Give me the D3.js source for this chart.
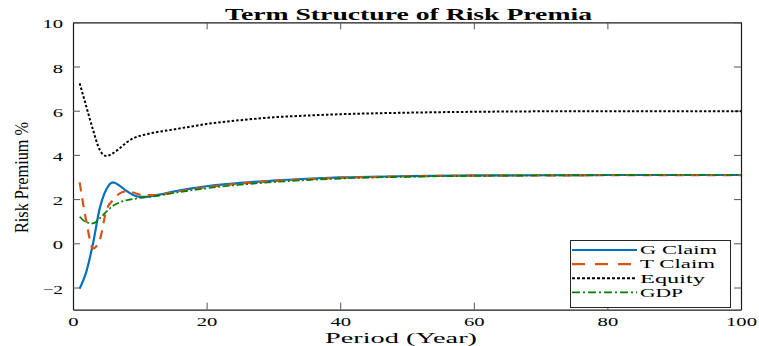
<!DOCTYPE html>
<html>
    <head>
        <meta charset="utf-8">
        <script src="https://cdn.jsdelivr.net/npm/d3@7"></script>
        <title>Term Structure of Risk Premia</title>
    </head>
    <style>
        body { margin: 0; background: white; }
        svg text { font-family: "Liberation Serif", "Times New Roman", serif; fill: #000; }
        .axis .domain { stroke: #1a1a1a; stroke-width: 1.2; }
        .axis .tick line { stroke: #555; }
    </style>
    <body></body>

    <script>

        //Data
        var periods = [1, 2, 3, 4, 5, 6, 7, 8, 9, 10, 11, 12, 14, 16, 18, 20, 25, 30, 35, 40, 50, 60, 70, 80, 90, 100];
        var gClaim  = [-2.05, -1.28, 0.0, 1.58, 2.45, 2.76, 2.6, 2.37, 2.19, 2.1, 2.1, 2.15, 2.27, 2.4, 2.5, 2.58, 2.73, 2.84, 2.92, 2.98, 3.04, 3.07, 3.08, 3.09, 3.09, 3.09];
        var tClaim  = [2.76, 0.98, -0.23, 0.15, 1.5, 1.96, 2.26, 2.35, 2.3, 2.2, 2.18, 2.18, 2.25, 2.36, 2.46, 2.54, 2.7, 2.82, 2.9, 2.96, 3.03, 3.06, 3.07, 3.08, 3.08, 3.08];
        var equity  = [7.24, 6.18, 5.13, 4.23, 3.95, 4.08, 4.3, 4.56, 4.75, 4.86, 4.93, 5.0, 5.1, 5.2, 5.3, 5.4, 5.57, 5.7, 5.78, 5.84, 5.91, 5.95, 5.97, 5.97, 5.97, 5.97];
        var gdp     = [1.2, 0.95, 0.9, 1.13, 1.43, 1.7, 1.85, 1.95, 2.0, 2.05, 2.09, 2.12, 2.22, 2.32, 2.41, 2.49, 2.65, 2.77, 2.86, 2.93, 3.01, 3.05, 3.07, 3.08, 3.09, 3.09];

        var seriesNames = ["G Claim", "T Claim", "Equity", "GDP"];
        var legendWidths = [77, 75, 65, 43];
        var xTicks = [0, 20, 40, 60, 80, 100];
        var yTicks = [-2, 0, 2, 4, 6, 8, 10];

        var series = [
            {name: seriesNames[0], values: gClaim, color: "#0072BD", dash: null, width: 2.2},
            {name: seriesNames[1], values: tClaim, color: "#D95319", dash: "9,7", width: 2.2},
            {name: seriesNames[2], values: equity, color: "#000000", dash: "2.5,2", width: 2},
            {name: seriesNames[3], values: gdp, color: "#008000", dash: "7,2.5,2,2.5", width: 1.7}
        ];

        var width = 759;
        var height = 346;
        var mLeft = 73, mRight = 741, mTop = 22.3, mBottom = 309.6;
        var serif = "'Liberation Serif', 'Times New Roman', serif";

        //Scales
        var xScale = d3.scaleLinear()
                        .domain([0, 100])
                        .range([mLeft, mRight]);

        var yScale = d3.scaleLinear()
                        .domain([-3, 10])
                        .range([mBottom, mTop]);

        var svg = d3.select("body")
                    .append("svg")
                    .attr("width", width)
                    .attr("height", height);

        //Axes (ticks inward, mirrored on top and right)
        var xAxisG = svg.append("g")
            .attr("class", "axis")
            .attr("transform", "translate(0," + mBottom + ")")
            .call(d3.axisBottom(xScale).tickValues(xTicks).tickSizeInner(-7).tickSizeOuter(0).tickPadding(8));

        svg.append("g")
            .attr("class", "axis")
            .attr("transform", "translate(0," + mTop + ")")
            .call(d3.axisTop(xScale).tickValues(xTicks).tickSizeInner(-7).tickSizeOuter(0).tickFormat(""));

        var yAxisG = svg.append("g")
            .attr("class", "axis")
            .attr("transform", "translate(" + mLeft + ",0)")
            .call(d3.axisLeft(yScale).tickValues(yTicks).tickSizeInner(-7).tickSizeOuter(0).tickPadding(10));

        svg.append("g")
            .attr("class", "axis")
            .attr("transform", "translate(" + mRight + ",0)")
            .call(d3.axisRight(yScale).tickValues(yTicks).tickSizeInner(-7).tickSizeOuter(0).tickFormat(""));

        // the reference is stretched sideways, so widen the tick labels
        svg.selectAll(".axis text")
            .style("font-family", serif)
            .attr("font-size", 12.5)
            .attr("fill", "#000")
            .attr("lengthAdjust", "spacingAndGlyphs")
            .attr("textLength", function(){
                return this.textContent.length * 10.3;
            });

        yAxisG.selectAll("text").attr("dy", "0.45em");
        xAxisG.selectAll("text").attr("dy", "0.7em");

        //Lines
        var line = d3.line()
                    .x(function(d, i){ return xScale(periods[i]); })
                    .y(function(d){ return yScale(d); })
                    .curve(d3.curveMonotoneX);

        svg.selectAll(".series")
            .data(series)
            .enter()
            .append("path")
            .attr("class", "series")
            .attr("d", function(d){ return line(d.values); })
            .attr("fill", "none")
            .attr("stroke", function(d){ return d.color; })
            .attr("stroke-width", function(d){ return d.width; })
            .attr("stroke-dasharray", function(d){ return d.dash; });

        //Title and labels
        svg.append("text")
            .attr("x", 225)
            .attr("y", 20)
            .style("font-family", serif)
            .attr("font-size", 17)
            .attr("font-weight", "bold")
            .attr("textLength", 367)
            .attr("lengthAdjust", "spacingAndGlyphs")
            .text("Term Structure of Risk Premia");

        svg.append("text")
            .attr("x", 325)
            .attr("y", 343)
            .style("font-family", serif)
            .attr("font-size", 15.5)
            .attr("font-weight", "normal")
            .attr("textLength", 152)
            .attr("lengthAdjust", "spacingAndGlyphs")
            .text("Period (Year)");

        svg.append("text")
            .attr("transform", "translate(28,233) rotate(-90)")
            .style("font-family", serif)
            .attr("font-size", 18)
            .attr("textLength", 111)
            .attr("lengthAdjust", "spacingAndGlyphs")
            .text("Risk Premium %");

        //Legend
        var legend = svg.append("g");

        legend.append("rect")
            .attr("x", 570.5)
            .attr("y", 240.5)
            .attr("width", 160)
            .attr("height", 67)
            .attr("fill", "white")
            .attr("stroke", "#262626")
            .attr("stroke-width", 1);

        var items = legend.selectAll(".item")
                        .data(series)
                        .enter()
                        .append("g")
                        .attr("class", "item")
                        .attr("transform", function(d, i){
                            return "translate(0," + (250 + i * 14.1) + ")";
                        });

        items.append("line")
            .attr("x1", 572)
            .attr("x2", 637)
            .attr("stroke", function(d){ return d.color; })
            .attr("stroke-width", function(d){ return d.width; })
            .attr("stroke-dasharray", function(d, i){
                return ["", "13,10", "3,2", "8,3,2,3"][i];
            });

        items.append("text")
            .attr("x", 640)
            .attr("y", 4.3)
            .style("font-family", serif)
            .attr("font-size", 12.5)
            .attr("textLength", function(d, i){ return legendWidths[i]; })
            .attr("lengthAdjust", "spacingAndGlyphs")
            .text(function(d){ return d.name; });

    </script>
</html>
